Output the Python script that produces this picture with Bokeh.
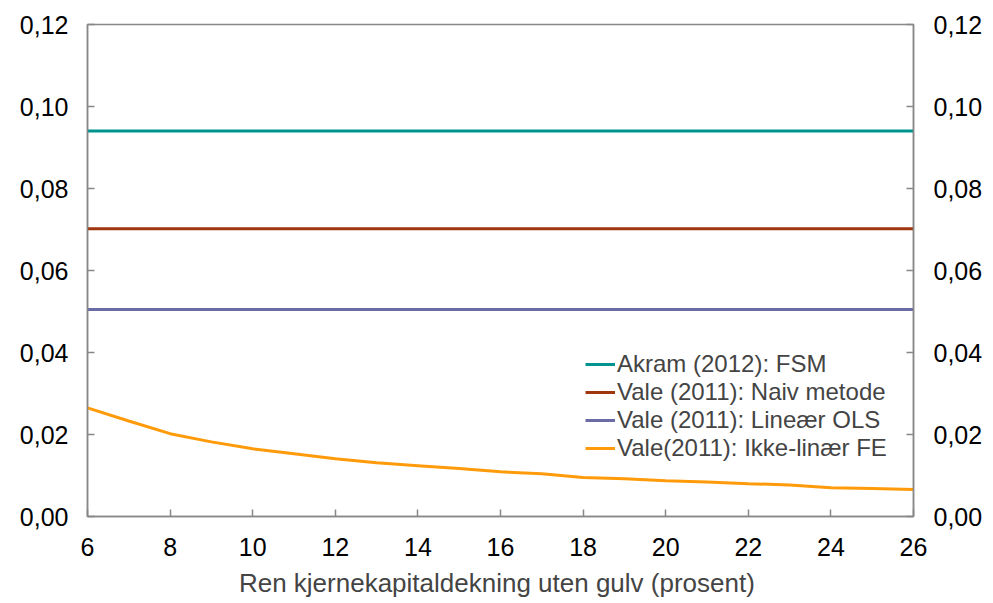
from bokeh.plotting import figure
from bokeh.models import LinearAxis, Range1d, FixedTicker, CustomJSTickFormatter, Legend, LegendItem
from bokeh.embed import file_html
from bokeh.resources import INLINE

x = list(range(6, 27))
akram_fsm = [0.094] * len(x)
vale_naiv = [0.0702] * len(x)
vale_ols = [0.0505] * len(x)
vale_fe = [0.0265, 0.0233, 0.0202, 0.0182, 0.0165, 0.0153, 0.0141, 0.0131, 0.0124, 0.0117,
           0.0109, 0.0104, 0.0095, 0.0092, 0.0087, 0.0084, 0.0080, 0.0077, 0.0070, 0.0068, 0.0066]

series_names = ["Akram (2012): FSM", "Vale (2011): Naiv metode", "Vale (2011): Lineær OLS", "Vale(2011): Ikke-linær FE"]
colors = ["#009490", "#A0360E", "#6B6BA6", "#FF9B0A"]
y_ticks = [0.0, 0.02, 0.04, 0.06, 0.08, 0.10, 0.12]
x_ticks = [6, 8, 10, 12, 14, 16, 18, 20, 22, 24, 26]
x_label = "Ren kjernekapitaldekning  uten gulv (prosent)"

FONT = "Liberation Sans"
FS = "25px"

p = figure(width=985, height=600, output_backend="svg", toolbar_location=None,
           x_range=Range1d(6, 26), y_range=Range1d(0, 0.12),
           min_border_left=87, min_border_right=70, min_border_top=24, min_border_bottom=82)
p.grid.visible = False
p.outline_line_color = "#888888"
p.outline_line_width = 1.5
p.background_fill_color = "white"
p.border_fill_color = "white"

fmt = CustomJSTickFormatter(code="return tick.toFixed(2).replace('.', ',');")

def style_axis(ax):
    ax.axis_line_color = "#888888"
    ax.axis_line_width = 1.5
    ax.major_tick_line_color = "#888888"
    ax.major_tick_line_width = 1.5
    ax.major_tick_in = 7
    ax.major_tick_out = 0
    ax.minor_tick_line_color = None
    ax.major_label_text_font = FONT
    ax.major_label_text_font_size = FS
    ax.major_label_text_color = "black"

p.yaxis.ticker = FixedTicker(ticks=y_ticks)
p.yaxis.formatter = fmt
p.yaxis.major_label_standoff = 19
style_axis(p.yaxis[0])

right = LinearAxis(ticker=FixedTicker(ticks=y_ticks), formatter=fmt)
style_axis(right)
right.major_label_standoff = 20
p.add_layout(right, "right")

p.xaxis.ticker = FixedTicker(ticks=x_ticks)
style_axis(p.xaxis[0])
p.xaxis.major_label_standoff = 21
p.xaxis.axis_label = x_label
p.xaxis.axis_label_text_font = FONT
p.xaxis.axis_label_text_font_size = "26px"
p.xaxis.axis_label_text_font_style = "normal"
p.xaxis.axis_label_standoff = 9

items = []
for name, ys, c in zip(series_names, [akram_fsm, vale_naiv, vale_ols, vale_fe], colors):
    r = p.line(x, ys, line_color=c, line_width=3)
    items.append(LegendItem(label=name, renderers=[r]))

legend = Legend(items=items, location=(498, 54), border_line_color=None,
                background_fill_alpha=0, label_text_font=FONT, label_text_font_size="24px",
                label_text_line_height=1.0,
                glyph_width=30, glyph_height=20, label_standoff=2, spacing=0, padding=0, margin=0,
                label_height=20)
p.add_layout(legend)

open("out.html", "w").write(file_html(p, INLINE))
